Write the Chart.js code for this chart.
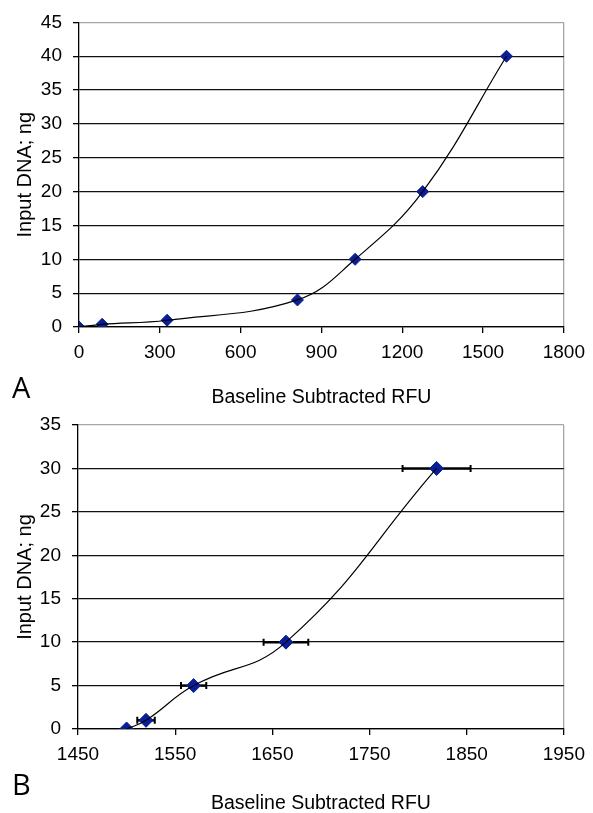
<!DOCTYPE html>
<html>
<head>
<meta charset="utf-8">
<script src="https://cdn.jsdelivr.net/npm/chart.js@4.4.1/dist/chart.umd.min.js"></script>
<style>
  html, body { margin: 0; padding: 0; background: #fff; }
  body { width: 593px; height: 813px; position: relative; overflow: hidden; }
  canvas { position: absolute; left: 0; }
  #chartA { top: 0; }
  #chartB { top: 400px; }
  .panel { position: absolute; left: 12px; font-family: 'Open Sans', 'DejaVu Sans', sans-serif; font-size: 29px; line-height: 1; color: #000; }
</style>
</head>
<body>
<canvas id="chartA" width="593" height="410"></canvas>
<canvas id="chartB" width="593" height="413"></canvas>
<div class="panel" style="top:372px">A</div>
<div class="panel" style="top:769px">B</div>
<script>
// Panel A: standard curve
const rfuA = [0, 86, 327, 811, 1025, 1276, 1587];
const dnaA = [0, 0.4, 1, 4, 10, 20, 40];
const xTicksA = [0, 300, 600, 900, 1200, 1500, 1800];
const yTicksA = [0, 5, 10, 15, 20, 25, 30, 35, 40, 45];

// Panel B: replicate means with horizontal error bars
const rfuB = [1500, 1520, 1569, 1664, 1819];
const rfuErrB = [0, 9, 13, 23, 35];
const dnaB = [0, 1, 5, 10, 30];
const xTicksB = [1450, 1550, 1650, 1750, 1850, 1950];
const yTicksB = [0, 5, 10, 15, 20, 25, 30, 35];

const xTitle = 'Baseline Subtracted RFU';
const yTitle = 'Input DNA; ng';
const markerColor = '#0a1f96';

Chart.defaults.font.family = "'Liberation Sans', Arial, sans-serif";
Chart.defaults.font.size = 19;
Chart.defaults.color = '#000';

// horizontal error bars, drawn underneath the markers
const errorBars = {
  id: 'errorBars',
  beforeDatasetsDraw(chart, args, opts) {
    if (!opts || !opts.errors) return;
    const { ctx, scales: { x, y } } = chart;
    ctx.save();
    ctx.strokeStyle = '#000';
    opts.xs.forEach((v, i) => {
      const e = opts.errors[i];
      if (!e) return;
      const x1 = x.getPixelForValue(v - e);
      const x2 = x.getPixelForValue(v + e);
      const py = y.getPixelForValue(opts.ys[i]);
      ctx.lineWidth = 2.5;
      ctx.beginPath();
      ctx.moveTo(x1, py); ctx.lineTo(x2, py);
      ctx.stroke();
      ctx.lineWidth = 2;
      ctx.beginPath();
      ctx.moveTo(x1, py - 3.5); ctx.lineTo(x1, py + 3.5);
      ctx.moveTo(x2, py - 3.5); ctx.lineTo(x2, py + 3.5);
      ctx.stroke();
    });
    ctx.restore();
  }
};

function points(xs, ys) {
  return xs.map((v, i) => ({ x: v, y: ys[i] }));
}

function makeChart(id, cfg) {
  const xMin = cfg.xTicks[0], xMax = cfg.xTicks[cfg.xTicks.length - 1];
  const yMin = cfg.yTicks[0], yMax = cfg.yTicks[cfg.yTicks.length - 1];
  return new Chart(document.getElementById(id), {
    type: 'scatter',
    data: {
      datasets: [
        {
          data: points(cfg.xs, cfg.ys),
          showLine: true,
          borderColor: '#000',
          borderWidth: 1.2,
          pointRadius: 0,
          fill: false,
          tension: cfg.tension,
          cubicInterpolationMode: cfg.cubic
        },
        {
          data: points(cfg.xs, cfg.ys),
          showLine: false,
          pointStyle: 'rectRot',
          pointRadius: cfg.markerRadius,
          pointBackgroundColor: markerColor,
          pointBorderColor: markerColor,
          pointBorderWidth: 1
        }
      ]
    },
    options: {
      responsive: false,
      animation: false,
      devicePixelRatio: 1,
      events: [],
      layout: { padding: { top: cfg.padTop, right: 26, left: 0, bottom: 0 } },
      plugins: {
        legend: { display: false },
        tooltip: { enabled: false },
        errorBars: cfg.errors ? { xs: cfg.xs, ys: cfg.ys, errors: cfg.errors } : {}
      },
      scales: {
        x: {
          type: 'linear',
          min: xMin, max: xMax,
          afterBuildTicks: s => { s.ticks = cfg.xTicks.map(v => ({ value: v })); },
          afterFit: s => { s.height = cfg.xHeight; },
          ticks: { padding: 8, autoSkip: false, maxRotation: 0, callback: v => String(v) },
          grid: {
            color: c => (c.tick && c.tick.value === xMax) ? '#a6a6a6' : 'rgba(0,0,0,0)',
            tickColor: '#000',
            tickLength: 6,
            lineWidth: 1.3
          },
          border: { display: true, color: '#000', width: 1.3 },
          title: {
            display: true, text: xTitle,
            font: { size: 19.5, lineHeight: 1 },
            padding: { top: 0, bottom: cfg.xTitlePad }
          }
        },
        y: {
          type: 'linear',
          min: yMin, max: yMax,
          afterBuildTicks: s => { s.ticks = cfg.yTicks.map(v => ({ value: v })); },
          afterFit: s => { s.width = cfg.yWidth; },
          ticks: { padding: 11, callback: v => String(v) },
          grid: {
            color: c => (c.tick && c.tick.value === yMax) ? '#a6a6a6' : '#111',
            tickColor: '#000',
            tickLength: 6,
            lineWidth: 1.3
          },
          border: { display: true, color: '#000', width: 1.3 },
          title: {
            display: true, text: yTitle,
            font: { size: 20, lineHeight: 1 },
            padding: { top: 15, bottom: 0 }
          }
        }
      }
    },
    plugins: [errorBars]
  });
}

makeChart('chartA', {
  xs: rfuA, ys: dnaA, xTicks: xTicksA, yTicks: yTicksA,
  tension: 0.4, cubic: 'default', markerRadius: 6,
  padTop: 22, yWidth: 79, xHeight: 83, xTitlePad: 3
});

makeChart('chartB', {
  xs: rfuB, ys: dnaB, errors: rfuErrB, xTicks: xTicksB, yTicks: yTicksB,
  tension: 0.45, cubic: 'default', markerRadius: 7,
  padTop: 25, yWidth: 78, xHeight: 84, xTitlePad: 0
});
</script>
</body>
</html>
